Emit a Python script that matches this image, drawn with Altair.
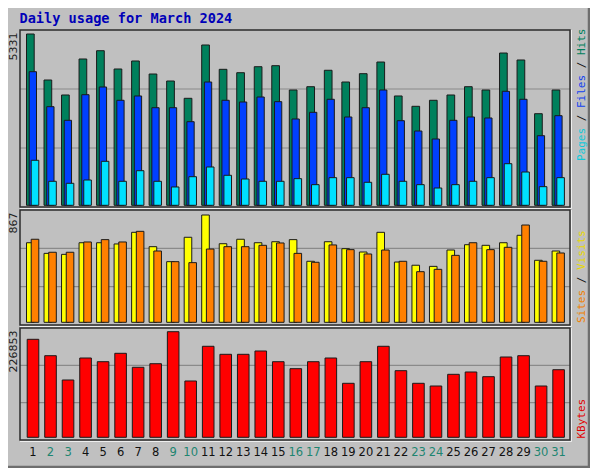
import altair as alt
import pandas as pd

# ---------------- data ----------------
days = list(range(1, 32))
weekend_days = [2, 3, 9, 10, 16, 17, 23, 24, 30, 31]
hits = [5331, 3899, 3433, 4553, 4811, 4242, 4491, 4086, 3868, 3330,
        4989, 4232, 4127, 4313, 4345, 3588, 3691, 4202, 3837, 4096,
        4459, 3402, 3081, 3268, 3433, 3691, 3588, 4739, 4522, 2851, 3588]
files = [4158, 3069, 2645, 3442, 3682, 3268, 3402, 3037, 3037, 2602,
         3837, 3268, 3215, 3370, 3225, 2686, 2894, 3299, 2748, 3037,
         3588, 2633, 2312, 2063, 2645, 2748, 2717, 3548, 3299, 2166, 2789]
pages = [1401, 747, 685, 787, 1369, 747, 1077, 747, 570, 890,
         1192, 934, 818, 747, 747, 829, 642, 860, 860, 716,
         965, 747, 642, 538, 642, 747, 860, 1295, 1036, 580, 860]
visits = [643, 557, 549, 643, 643, 633, 727, 611, 490, 687,
          867, 635, 671, 643, 651, 668, 493, 651, 595, 568,
          727, 487, 461, 452, 584, 627, 622, 643, 703, 501, 576]
sites = [671, 566, 566, 649, 668, 649, 735, 576, 490, 482,
         592, 611, 611, 622, 641, 557, 485, 625, 587, 552,
         584, 493, 409, 428, 541, 643, 587, 606, 786, 493, 560]
kbytes = [210530, 175300, 123100, 170350, 162400, 180450, 150400, 158100, 226853, 120950,
          195500, 178300, 178300, 185400, 162400, 147400, 162400, 170350, 116000, 162400,
          195500, 143100, 116000, 110200, 135300, 140300, 130200, 172500, 175300, 110200, 145200]

title_text = "Daily usage for March 2024"

df = pd.DataFrame({
    "day": days, "hits": hits, "files": files, "pages": pages,
    "visits": visits, "sites": sites, "kbytes": kbytes,
    "wk": ["we" if d in weekend_days else "wd" for d in days],
})

# ---------------- layout ----------------
W, H = 550, 410
DAYPX = 17.52
C1 = 13.0
x_lo = 1 - C1 / DAYPX
x_hi = x_lo + W / DAYPX
xscale = alt.Scale(domain=[x_lo, x_hi], nice=False, zero=False)

# panels: frame top, frame bottom, baseline px, px of max value
P_TOP = dict(t=0, b=177, base=175.3, top=4.0)
P_MID = dict(t=180, b=295, base=292.3, top=185.0)
P_BOT = dict(t=298, b=410, base=407.3, top=301.7)

def ydom(p, maxv):
    return [maxv * (p["base"] - H) / (p["base"] - p["top"]),
            maxv * p["base"] / (p["base"] - p["top"])]

max_top = max(hits)
max_mid = max(max(visits), max(sites))
max_bot = max(kbytes)
dom_top = ydom(P_TOP, max_top)
dom_mid = ydom(P_MID, max_mid)
dom_bot = ydom(P_BOT, max_bot)

C_HITS, C_FILES, C_PAGES = "#00805C", "#0040FF", "#00E0FF"
C_VISITS, C_SITES, C_KB = "#FFFF00", "#FF8000", "#FF0000"

def bars(field, color, center, width, dom):
    lo = (center - width / 2) / DAYPX
    hi = (center + width / 2) / DAYPX
    return alt.Chart(df).transform_calculate(
        xa=f"datum.day + ({lo})", xb=f"datum.day + ({hi})"
    ).mark_bar(fill=color, stroke="#1a1a1a", strokeWidth=1).encode(
        x=alt.X("xa:Q", scale=xscale, axis=None),
        x2="xb:Q",
        y=alt.Y(f"{field}:Q", scale=alt.Scale(domain=dom, nice=False, zero=False), axis=None),
        y2=alt.datum(0),
    )

deco = alt.Chart(pd.DataFrame({"k": [0]}))

layers = []
# gridlines at panel thirds
for p in (P_TOP, P_MID, P_BOT):
    h = p["b"] - p["t"]
    for f in (1 / 3, 2 / 3):
        layers.append(deco.mark_rule(color="#8a8a8a", strokeWidth=1.2).encode(
            x=alt.value(0), x2=alt.value(W), y=alt.value(p["t"] + h * f)))

layers += [
    bars("hits", C_HITS, -2.65, 7.7, dom_top),
    bars("files", C_FILES, -0.15, 7.3, dom_top),
    bars("pages", C_PAGES, 2.0, 7.6, dom_top),
    bars("visits", C_VISITS, -2.7, 7.6, dom_mid),
    bars("sites", C_SITES, 2.0, 7.6, dom_mid),
    bars("kbytes", C_KB, 0.0, 11.6, dom_bot),
]

# panel frames
for p in (P_TOP, P_MID, P_BOT):
    layers.append(deco.mark_rect(fill="transparent", stroke="#2b2b2b", strokeWidth=1.5).encode(
        x=alt.value(0), x2=alt.value(W), y=alt.value(p["t"]), y2=alt.value(p["b"])))
    layers.append(deco.mark_rule(color="#eeeeee", strokeWidth=1).encode(
        x=alt.value(W + 1.5), y=alt.value(p["t"]), y2=alt.value(p["b"] + 1.5)))
    layers.append(deco.mark_rule(color="#eeeeee", strokeWidth=1).encode(
        x=alt.value(0), x2=alt.value(W + 1.5), y=alt.value(p["b"] + 1.5)))

# left max labels
for p, m in ((P_TOP, max_top), (P_MID, max_mid), (P_BOT, max_bot)):
    layers.append(deco.mark_text(text=str(m), angle=270, align="right", baseline="middle",
                                 font="DejaVu Sans", fontSize=11, color="#222222").encode(
        x=alt.value(-6), y=alt.value(p["t"] + 2.5)))

# right legends (rotated, coloured segments)
ADV = 11 * 0.6021
def side_label(segments, bottom_y):
    out = []
    for txt, idx, col in segments:
        out.append(deco.mark_text(text=txt, angle=270, align="left", baseline="middle",
                                  font="DejaVu Sans Mono", fontSize=11, color=col).encode(
            x=alt.value(561.5), y=alt.value(bottom_y - idx * ADV)))
    return out

layers += side_label([("Pages", 0, "#10C8D8"), ("/", 6, "#111111"), ("Files", 8, "#1040F0"),
                      ("/", 14, "#111111"), ("Hits", 16, "#00805C")], 131)
layers += side_label([("Sites", 0, "#F08000"), ("/", 6, "#111111"), ("Visits", 8, "#E8D800")], 293)
layers += side_label([("KBytes", 0, "#E00000")], 408.5)

# day labels
layers.append(alt.Chart(df).mark_text(font="DejaVu Sans", fontSize=11.5, baseline="middle").encode(
    x=alt.X("day:Q", scale=xscale, axis=None),
    y=alt.value(423),
    text="day:N",
    color=alt.Color("wk:N", scale=alt.Scale(domain=["wd", "we"], range=["#111111", "#1E8570"]), legend=None),
))

# title
layers.append(deco.mark_text(text=title_text, align="left", baseline="alphabetic",
                             font="DejaVu Sans Mono", fontWeight="bold", fontSize=13.6,
                             color="#0000B8").encode(x=alt.value(-0.5), y=alt.value(-7.3)))

# image bevel (right / bottom)
layers.append(deco.mark_rule(color="#6e6e6e", strokeWidth=2.5).encode(
    x=alt.value(569), y=alt.value(-22), y2=alt.value(438)))
layers.append(deco.mark_rule(color="#6e6e6e", strokeWidth=2.5).encode(
    x=alt.value(-12), x2=alt.value(570), y=alt.value(437)))

chart = alt.layer(*layers).resolve_scale(y="independent").properties(
    width=W, height=H,
    autosize=alt.AutoSizeParams(type="none"),
    padding={"left": 12, "top": 22, "right": 20, "bottom": 28},
    background="#C0C0C0",
).configure_view(stroke="transparent")

chart.save("out.html", embed_options={"renderer": "svg", "actions": False})
